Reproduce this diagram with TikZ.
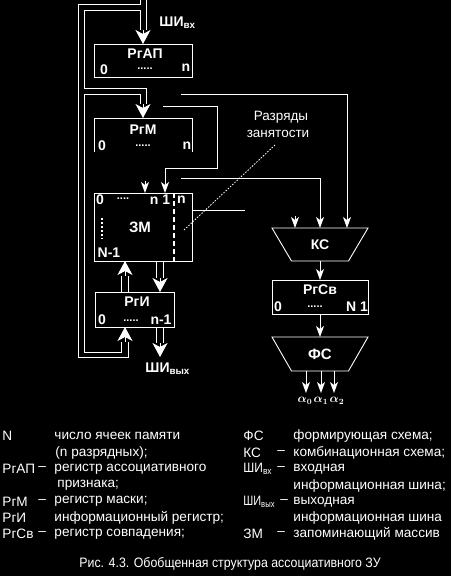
\documentclass[tikz,border=0pt]{standalone}
\usepackage{fontspec}
\usepackage{graphicx}
\setmainfont{Liberation Sans}
\usetikzlibrary{arrows.meta}
\begin{document}
\begin{tikzpicture}[x=1pt,y=-1pt,line width=0.9pt,draw=white,text=white,
  font=\fontsize{13}{15}\selectfont,
  reg/.style={draw,inner sep=0pt,outer sep=0pt},
  lbl/.style={font=\fontsize{14}{16}\selectfont\bfseries,inner sep=0pt},
  dts/.style={font=\fontsize{11}{13}\selectfont\bfseries,inner sep=0pt},
  alf/.style={font=\fontsize{12}{14}\selectfont\boldmath,inner sep=0pt},
  sarr/.style={-{Stealth[length=11pt,width=8pt,inset=3pt]}},
  barr/.style={-{Stealth[length=14pt,width=15pt,inset=4pt]}},
  leg/.style={anchor=west,inner sep=0pt,font=\fontsize{13.6}{15}\selectfont},
  vdots/.style={line width=2pt,dash pattern=on 2pt off 2pt}]
\fill[black] (0,0) rectangle (451,576);
\useasboundingbox (0,0) rectangle (451,576);

% registers
\node[reg,minimum width=98pt,minimum height=33pt] (rgap) at (143.5,60.5) {};
\node[lbl] at (145,54) {РгАП};
\node[lbl] at (104,70) {0};
\node[dts] at (145,69) {.....};
\node[lbl] at (186,68) {n};

\node[minimum width=98pt,minimum height=34pt,inner sep=0pt,outer sep=0pt] (rgm) at (143.5,135) {};
\draw (rgm.south west) -- (rgm.north west) -- (rgm.north east) -- (rgm.south east);
\node[lbl] at (143,130) {РгМ};
\node[lbl] at (102,146) {0};
\node[dts] at (143,146) {.....};
\node[lbl] at (187,146) {n};

\node[reg,minimum width=98pt,minimum height=68pt] (zm) at (143.5,227) {};
\draw[line width=1.6pt,dash pattern=on 5pt off 3pt] (174,193) -- (174,261);
\node[lbl] at (100,200) {0};
\node[dts] at (123,199) {....};
\node[lbl] at (160,200) {n 1};
\node[lbl] at (181.5,200) {n};
\node[lbl,font=\fontsize{15}{17}\selectfont\bfseries] at (140,227) {ЗМ};
\draw[vdots] (102,218) -- (102,239);
\node[lbl] at (109,253) {N-1};

\node[reg,minimum width=79pt,minimum height=35pt] (rgi) at (134.5,309.5) {};
\node[lbl] at (137,302) {РгИ};
\node[lbl] at (102,320) {0};
\node[dts] at (131,321) {.....};
\node[lbl] at (161,320) {n-1};

% KS trapezoid
\coordinate (ks) at (320,244.5);
\draw (272,228) -- (368,228) -- (348.5,261) -- (291.5,261) -- cycle;
\node[lbl] at (ks) {КС};

\node[reg,minimum width=96pt,minimum height=34pt] (rgsv) at (320,297) {};
\node[lbl] at (320,290) {РгСв};
\node[lbl] at (278,307) {0};
\node[dts] at (315,307) {.....};
\node[lbl] at (357,307) {N 1};

\coordinate (fs) at (320,354);
\draw (272,337) -- (368,337) -- (348.5,371) -- (291.5,371) -- cycle;
\node[lbl,font=\fontsize{15}{17}\selectfont\bfseries] at (fs) {ФС};

\coordinate (kstop) at (320,228);
\coordinate (ksbot) at (320,261);
\coordinate (fstop) at (320,337);
\draw[sarr] (ksbot) -- (rgsv.north);
\draw[sarr] (rgsv.south) -- (fstop);
\coordinate (o0) at (306,393);
\coordinate (o1) at (321,393);
\coordinate (o2) at (334,393);
\draw[sarr] (306,371) -- (o0);
\draw[sarr] (321,371) -- (o1);
\draw[sarr] (334,371) -- (o2);
\node[alf] at (305,401) {$\alpha_0$};
\node[alf] at (321,401) {$\alpha_1$};
\node[alf] at (337,401) {$\alpha_2$};

% input bus
\draw (146,0) -- (146,30);
\node[lbl,anchor=west] at (159,23) {ШИ\textsubscript{вх}};
% loops
\draw (140,0) -- (140,4) -- (78,4) -- (78,357) -- (128.5,357) -- (128.5,342);
\draw (121.5,342) -- (121.5,352) -- (84,352) -- (84,94) -- (140,94) -- (140,104);
\draw (146,104) -- (146,88) -- (84,88) -- (84,10) -- (140,10) -- (140,30);
\draw[barr] (143,30) -- (rgap.north -| 143,0);
\draw[barr] (143,104) -- (rgm.north -| 143,0);
\draw[barr] (125,342) -- (rgi.south -| 125,0);
% zm <-> rgi
\draw (121.5,292) -- (121.5,276);
\draw (128.5,292) -- (128.5,276);
\draw[barr] (125,276) -- (zm.south -| 125,0);
\draw (156.5,261) -- (156.5,278);
\draw (163.5,261) -- (163.5,278);
\draw[barr] (160,278) -- (rgi.north -| 160,0);
\draw (156.5,327) -- (156.5,343);
\draw (163.5,327) -- (163.5,343);
\coordinate (out) at (160,357);
\draw[barr] (160,343) -- (out);
\node[lbl,anchor=west] at (145,369) {ШИ\textsubscript{вых}};

% right-side connectors
\draw[sarr] (181,94) -- (347,94) -- (347,228);
\draw[sarr] (163,106) -- (217,106) -- (217,168) -- (165,168) -- (165,193);
\draw[sarr] (181,178) -- (320,178) -- (kstop);
\draw (zm.east |- 0,210) -- (245,210);
\draw[sarr] (295,216) -- (295,228);
\draw[sarr] (145,181) -- (145,193);

% annotation
\node[inner sep=0pt,font=\fontsize{13.5}{15}\selectfont] at (281,117) {Разряды};
\node[inner sep=0pt,font=\fontsize{13.5}{15}\selectfont] at (278,134) {занятости};
\draw[line width=0.8pt,dash pattern=on 1.5pt off 1.5pt] (275,145) -- (184,230);

% legend
\node[leg] at (2,436) {N};
\node[leg] at (54,436) {число ячеек памяти};
\node[leg] at (55,452.5) {(n разрядных);};
\node[leg] at (2,469) {РгАП};
\node[leg] at (38,469) {–};
\node[leg] at (54,469) {регистр ассоциативного};
\node[leg] at (57,485) {признака;};
\node[leg] at (2,501.5) {РгМ};
\node[leg] at (38,501.5) {–};
\node[leg] at (54,501.5) {регистр маски;};
\node[leg] at (2,518) {РгИ};
\node[leg] at (54,518) {информационный регистр;};
\node[leg] at (2,534) {РгСв};
\node[leg] at (38,534) {–};
\node[leg] at (54,534) {регистр совпадения;};

\node[leg] at (243,436) {ФС};
\node[leg] at (293,436) {формирующая схема;};
\node[leg] at (243,453) {КС};
\node[leg] at (277,453) {–};
\node[leg] at (293,453) {комбинационная схема;};
\node[leg] at (243,469) {\scalebox{0.88}[1]{ШИ\textsubscript{вх}}};
\node[leg] at (277,469) {–};
\node[leg] at (293,469) {входная};
\node[leg] at (293,486) {информационная шина;};
\node[leg] at (243,502) {\scalebox{0.8}[1]{ШИ\textsubscript{вых}}};
\node[leg] at (280,502) {–};
\node[leg] at (293,502) {выходная};
\node[leg] at (293,518) {информационная шина};
\node[leg] at (243,534) {ЗМ};
\node[leg] at (277,534) {–};
\node[leg] at (293,534) {запоминающий массив};

\node[inner sep=0pt] at (230,564) {\scalebox{0.95}[1.05]{Рис. 4.3. Обобщенная структура ассоциативного ЗУ}};
\end{tikzpicture}
\end{document}
